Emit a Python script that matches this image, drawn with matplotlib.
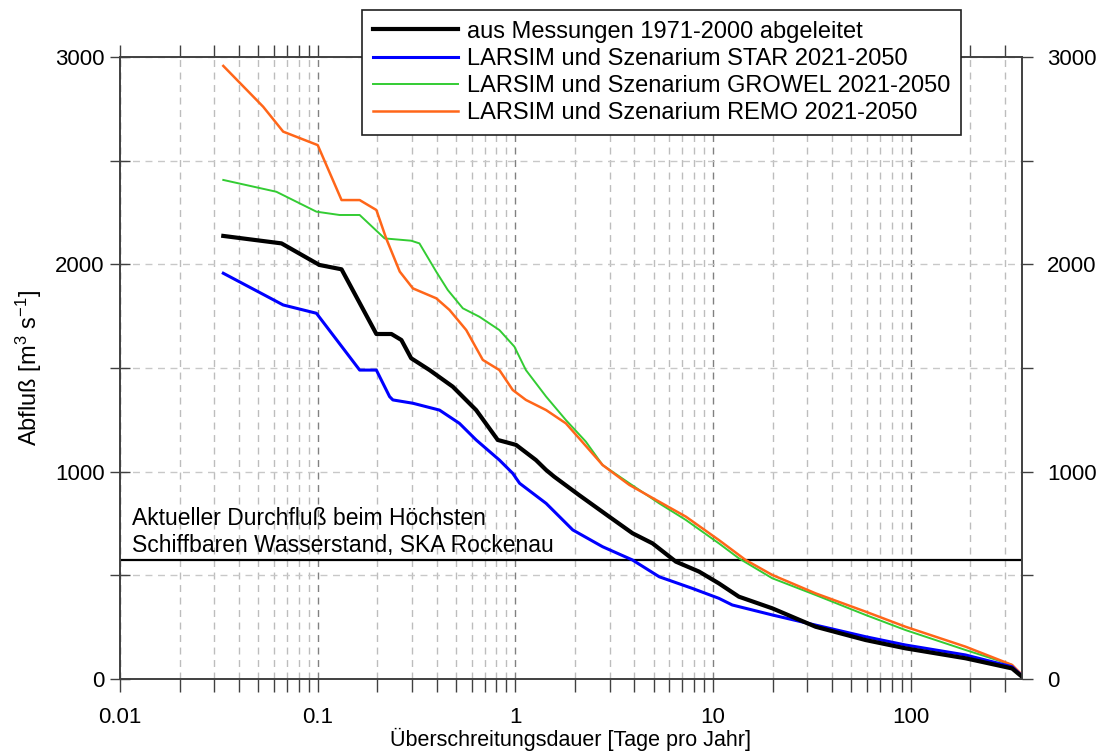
import numpy as np
import matplotlib
matplotlib.use('Agg')
import matplotlib.pyplot as plt
from matplotlib.ticker import FixedLocator, FixedFormatter, NullFormatter, LogLocator

plt.rcParams['font.family'] = ['Liberation Sans', 'DejaVu Sans']
plt.rcParams['mathtext.fontset'] = 'custom'
plt.rcParams['mathtext.rm'] = 'Liberation Sans'
plt.rcParams['mathtext.it'] = 'Liberation Sans'

# Überschreitungsdauer [Tage/Jahr] vs Abfluss [m3/s]
mess_x = [0.0333, 0.0656, 0.102, 0.132, 0.198, 0.236, 0.265, 0.297, 0.368, 0.482, 0.633, 0.814,
          1.008, 1.27, 1.43, 1.57, 2.10, 2.98, 3.91, 4.94, 6.48, 8.49, 10.7, 13.5, 19.9, 33.0,
          59.0, 94.0, 189, 325, 365]
mess_y = [2137, 2101, 1997, 1976, 1664, 1664, 1635, 1547, 1490, 1410, 1297, 1153,
          1129, 1056, 1008, 976, 887, 783, 703, 654, 566, 518, 461, 397, 341, 252,
          188, 148, 100, 51, 11]

star_x = [0.0333, 0.0669, 0.0985, 0.163, 0.198, 0.231, 0.240, 0.303, 0.413, 0.521, 0.633, 0.830,
          0.969, 1.05, 1.43, 1.95, 2.76, 3.91, 5.34, 7.85, 10.7, 12.5, 19.9, 33.0, 59.0, 94.0,
          189, 325, 365]
star_y = [1957, 1804, 1764, 1490, 1490, 1362, 1346, 1330, 1297, 1233, 1153, 1056,
          992, 944, 847, 719, 638, 574, 493, 437, 389, 357, 309, 260, 204, 164,
          116, 59, 15]

growel_x = [0.0333, 0.0618, 0.0985, 0.129, 0.163, 0.218, 0.297, 0.327, 0.398, 0.455, 0.542, 0.658,
            0.830, 0.988, 1.13, 1.43, 1.80, 2.27, 2.76, 3.77, 5.34, 7.28, 10.7, 13.5, 19.9, 33.0,
            59.0, 94.0, 189, 325, 365]
growel_y = [2407, 2350, 2254, 2238, 2238, 2125, 2114, 2101, 1964, 1876, 1788, 1747,
            1683, 1603, 1490, 1362, 1249, 1145, 1032, 944, 847, 767, 654, 582, 486, 405,
            309, 236, 140, 68, 15]

remo_x = [0.0333, 0.053, 0.0669, 0.100, 0.132, 0.163, 0.198, 0.222, 0.260, 0.303, 0.398, 0.464,
          0.564, 0.684, 0.830, 0.969, 1.13, 1.43, 1.80, 2.10, 2.76, 3.77, 5.34, 7.28, 10.7,
          14.6, 19.9, 33.0, 59.0, 94.0, 189, 325, 365]
remo_y = [2957, 2760, 2640, 2575, 2310, 2310, 2262, 2125, 1965, 1884, 1836, 1780,
          1683, 1539, 1490, 1394, 1346, 1297, 1233, 1161, 1032, 936, 855, 783, 670,
          574, 502, 413, 325, 252, 156, 68, 20]

hsw_q = 575  # Durchfluss beim hoechsten schiffbaren Wasserstand

labels = ['aus Messungen 1971-2000 abgeleitet',
          'LARSIM und Szenarium STAR 2021-2050',
          'LARSIM und Szenarium GROWEL 2021-2050',
          'LARSIM und Szenarium REMO 2021-2050']

x_major = [0.01, 0.1, 1, 10, 100]
x_major_labels = ['0.01', '0.1', '1', '10', '100']
y_ticks = [0, 500, 1000, 1500, 2000, 2500, 3000]
y_tick_labels = ['0', '', '1000', '', '2000', '', '3000']

fig = plt.figure(figsize=(10.98, 7.53), dpi=100)
ax = fig.add_axes([120/1098, 1 - 679/753, 902/1098, 622/753])

ax.set_xscale('log')
ax.set_xlim(0.01, 365)
ax.set_ylim(0, 3000)

l1, = ax.plot(mess_x, mess_y, color='black', lw=3.0, zorder=5)
l2, = ax.plot(star_x, star_y, color='#0000ff', lw=2.2, zorder=4)
l3, = ax.plot(growel_x, growel_y, color='#33cc33', lw=1.4, zorder=3)
l4, = ax.plot(remo_x, remo_y, color='#ff6619', lw=1.8, zorder=3)

ax.axhline(hsw_q, color='black', lw=1.6, zorder=2)
ax.text(0.013, 0.196, 'Aktueller Durchfluß beim Höchsten\nSchiffbaren Wasserstand, SKA Rockenau',
        transform=ax.transAxes, fontsize=16.5, va='bottom', ha='left', linespacing=1.25)

# ticks
ax.xaxis.set_major_locator(FixedLocator(x_major))
ax.xaxis.set_major_formatter(FixedFormatter(x_major_labels))
ax.xaxis.set_minor_locator(LogLocator(base=10, subs=np.arange(2, 10)))
ax.xaxis.set_minor_formatter(NullFormatter())
ax.yaxis.set_major_locator(FixedLocator(y_ticks))
ax.yaxis.set_major_formatter(FixedFormatter(y_tick_labels))

ax.tick_params(axis='x', which='both', top=True, direction='out', length=9, width=1,
               color='#404040', labelsize=16, pad=11)
ax.tick_params(axis='y', which='major', direction='inout', length=14, width=1,
               color='#404040', labelsize=16, pad=4)

ax2 = ax.twinx()
ax2.set_ylim(0, 3000)
ax2.yaxis.set_major_locator(FixedLocator(y_ticks))
ax2.yaxis.set_major_formatter(FixedFormatter(y_tick_labels))
ax2.tick_params(axis='y', direction='out', length=8, width=1, color='#404040',
                labelsize=16, pad=10)

for a in (ax, ax2):
    for s in a.spines.values():
        s.set_color('#404040')
        s.set_linewidth(1.2)

# grid
ax.grid(True, which='minor', axis='x', color='#bdbdbd', linestyle=(0, (5, 4)), lw=1)
ax.grid(True, which='major', axis='x', color='#808080', linestyle=(0, (5, 4)), lw=1)
ax.grid(True, which='major', axis='y', color='#c8c8c8', linestyle=(0, (5, 4)), lw=1)
ax.set_axisbelow(True)

ax.set_xlabel('Überschreitungsdauer [Tage pro Jahr]', fontsize=15.5, labelpad=0)
ax.set_ylabel(r'Abfluß [m$^3$ s$^{-1}$]', fontsize=17, labelpad=8)

leg = ax2.legend([l1, l2, l3, l4], labels, loc='upper left',
                 bbox_to_anchor=((362 - 120)/902, (679 - 10)/622),
                 borderaxespad=0, fontsize=17, frameon=True, fancybox=False,
                 handlelength=3.6, handletextpad=0.4, borderpad=0.45, labelspacing=0.22)
leg.get_frame().set_edgecolor('#202020')
leg.get_frame().set_linewidth(1.2)
leg.get_frame().set_alpha(1)

fig.savefig('out.png', dpi=100)
